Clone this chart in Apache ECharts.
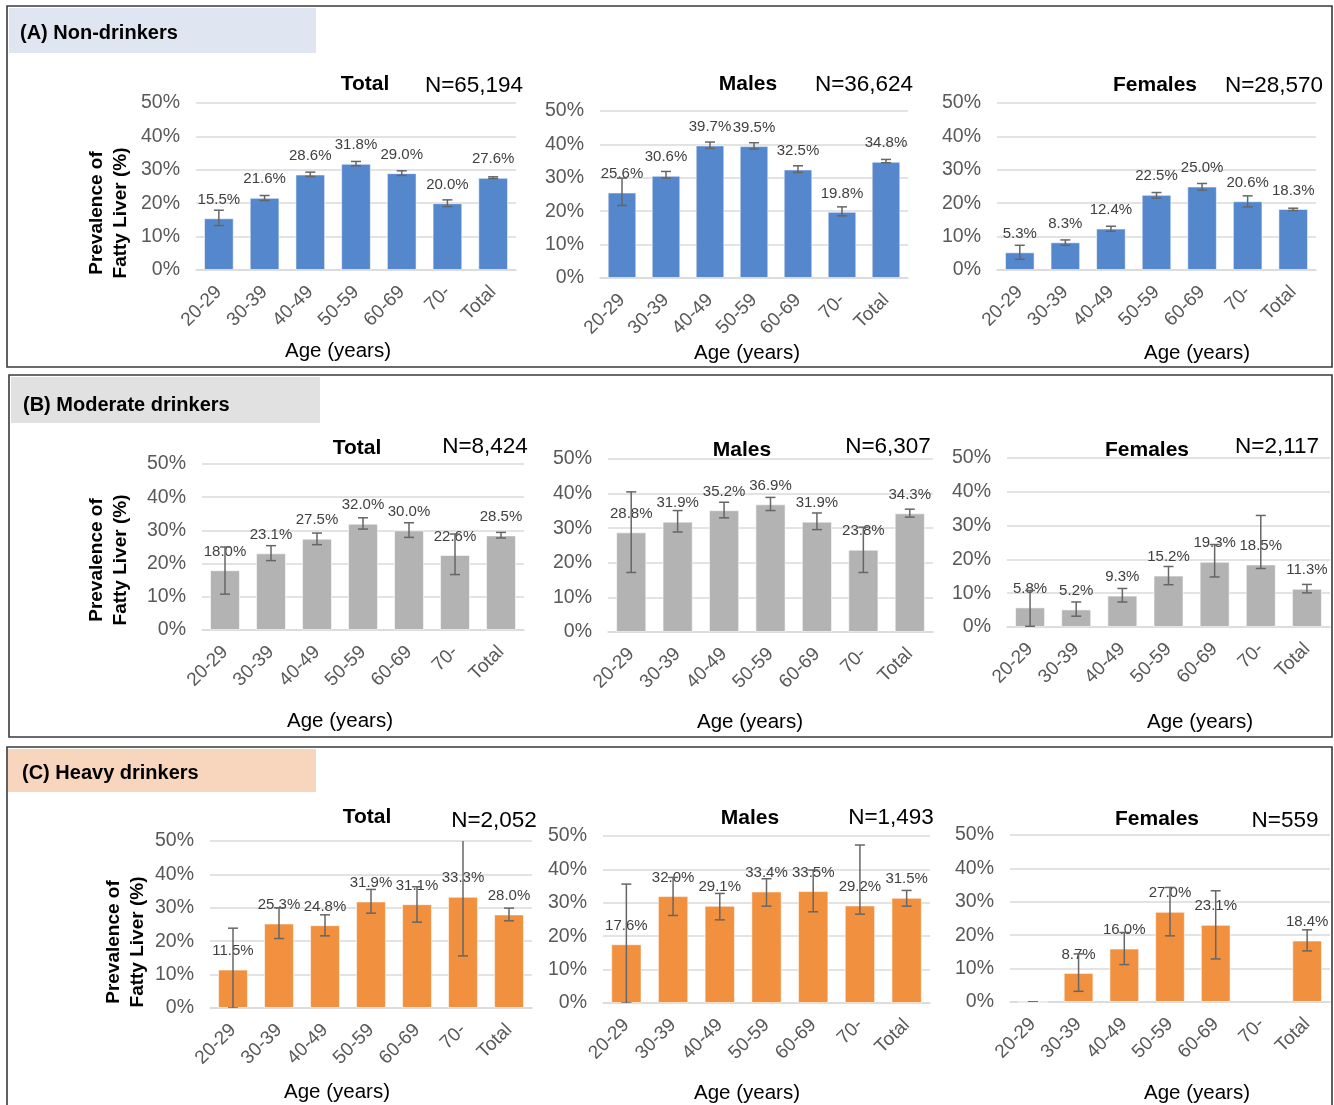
<!DOCTYPE html>
<html>
<head>
<meta charset="utf-8">
<script src="https://cdn.jsdelivr.net/npm/echarts@6/dist/echarts.min.js"></script>
<style>
  html, body { margin: 0; padding: 0; background: #ffffff; }
  #chart { width: 1334px; height: 1105px; }
</style>
</head>
<body>
<div id="chart"></div>
<script>
// Age groups on every x axis
const ageGroups = ['20-29', '30-39', '40-49', '50-59', '60-69', '70-', 'Total'];

// Prevalence of fatty liver (%), with lower / upper error bar limits

// (A) Non-drinkers
const nonTotal      = [15.5, 21.6, 28.6, 31.8, 29.0, 20.0, 27.6];
const nonTotalLow   = [13.3, 20.8, 28.0, 31.2, 28.3, 19.0, 27.4];
const nonTotalHigh  = [17.9, 22.3, 29.3, 32.5, 29.7, 21.0, 27.9];
const nonMales      = [25.6, 30.6, 39.7, 39.5, 32.5, 19.8, 34.8];
const nonMalesLow   = [21.7, 29.9, 38.8, 38.6, 31.6, 18.6, 34.5];
const nonMalesHigh  = [29.9, 31.9, 40.7, 40.5, 33.6, 21.3, 35.5];
const nonFemales     = [5.3, 8.3, 12.4, 22.5, 25.0, 20.6, 18.3];
const nonFemalesLow  = [3.2, 7.4, 11.6, 21.5, 23.9, 18.9, 17.8];
const nonFemalesHigh = [7.4, 9.0, 13.1, 23.2, 25.9, 22.2, 18.5];

// (B) Moderate drinkers
const modTotal      = [18.0, 23.1, 27.5, 32.0, 30.0, 22.6, 28.5];
const modTotalLow   = [10.8, 20.9, 25.7, 30.4, 27.9, 16.7, 27.7];
const modTotalHigh  = [25.0, 25.4, 29.2, 33.8, 32.3, 28.9, 29.4];
const modMales      = [28.8, 31.9, 35.2, 36.9, 31.9, 23.8, 34.3];
const modMalesLow   = [17.2, 28.9, 33.0, 35.1, 29.6, 17.2, 33.2];
const modMalesHigh  = [40.5, 35.1, 37.5, 38.9, 34.4, 30.3, 35.5];
const modFemales     = [5.8, 5.2, 9.3, 15.2, 19.3, 18.5, 11.3];
const modFemalesLow  = [0.2, 3.2, 7.4, 12.5, 14.8, 17.3, 10.1];
const modFemalesHigh = [10.8, 7.4, 11.4, 17.9, 24.4, 33.0, 12.6];

// (C) Heavy drinkers
const heavyTotal      = [11.5, 25.3, 24.8, 31.9, 31.1, 33.3, 28.0];
const heavyTotalLow   = [0.0, 20.8, 21.6, 28.4, 25.7, 15.6, 26.1];
const heavyTotalHigh  = [23.9, 30.0, 27.9, 35.5, 36.3, 51.0, 29.9];
const heavyMales      = [17.6, 32.0, 29.1, 33.4, 33.5, 29.2, 31.5];
const heavyMalesLow   = [0.0, 26.2, 24.9, 29.0, 27.3, 26.6, 29.0];
const heavyMalesHigh  = [35.6, 37.6, 32.8, 37.2, 39.8, 47.3, 33.7];
const heavyFemales     = [0.0, 8.7, 16.0, 27.0, 23.1, null, 18.4];
const heavyFemalesLow  = [0.0, 3.2, 11.2, 19.8, 12.9, null, 15.3];
const heavyFemalesHigh = [0.0, 14.4, 20.8, 34.3, 33.3, null, 21.6];

// Styles
const FONT = "'Liberation Sans', Arial, Helvetica, sans-serif";
const BLUE = '#5587cc';
const GREY = '#b3b3b3';
const ORANGE = '#f19140';
const ERR_COLOR = '#666666';
const GRID_COLOR = '#dadada';

// Layout of each small chart (pixel boxes and text anchors)
const panels = [
  { title: 'Total',   n: 'N=65,194', values: nonTotal,   low: nonTotalLow,   high: nonTotalHigh,   color: BLUE,
    grid: { left: 196, top: 103, width: 320, height: 167 }, tx: 365, ty: 84, nx: 474, ny: 86, ax: 338, ay: 351 },
  { title: 'Males',   n: 'N=36,624', values: nonMales,   low: nonMalesLow,   high: nonMalesHigh,   color: BLUE,
    grid: { left: 600, top: 111, width: 308, height: 167 }, tx: 748, ty: 84, nx: 864, ny: 85, ax: 747, ay: 353 },
  { title: 'Females', n: 'N=28,570', values: nonFemales, low: nonFemalesLow, high: nonFemalesHigh, color: BLUE,
    grid: { left: 997, top: 103, width: 319, height: 167 }, tx: 1155, ty: 85, nx: 1274, ny: 86, ax: 1197, ay: 353 },

  { title: 'Total',   n: 'N=8,424',  values: modTotal,   low: modTotalLow,   high: modTotalHigh,   color: GREY,
    grid: { left: 202, top: 464, width: 322, height: 166 }, tx: 357, ty: 448, nx: 485, ny: 447, ax: 340, ay: 721 },
  { title: 'Males',   n: 'N=6,307',  values: modMales,   low: modMalesLow,   high: modMalesHigh,   color: GREY,
    grid: { left: 608, top: 459, width: 325, height: 173 }, tx: 742, ty: 450, nx: 888, ny: 447, ax: 750, ay: 722 },
  { title: 'Females', n: 'N=2,117',  values: modFemales, low: modFemalesLow, high: modFemalesHigh, color: GREY,
    grid: { left: 1007, top: 458, width: 323, height: 169 }, tx: 1147, ty: 450, nx: 1277, ny: 447, ax: 1200, ay: 722 },

  { title: 'Total',   n: 'N=2,052',  values: heavyTotal,   low: heavyTotalLow,   high: heavyTotalHigh,   color: ORANGE,
    grid: { left: 210, top: 841, width: 322, height: 167 }, tx: 367, ty: 817, nx: 494, ny: 821, ax: 337, ay: 1092 },
  { title: 'Males',   n: 'N=1,493',  values: heavyMales,   low: heavyMalesLow,   high: heavyMalesHigh,   color: ORANGE,
    grid: { left: 603, top: 836, width: 327, height: 167 }, tx: 750, ty: 818, nx: 891, ny: 818, ax: 747, ay: 1093 },
  { title: 'Females', n: 'N=559',    values: heavyFemales, low: heavyFemalesLow, high: heavyFemalesHigh, color: ORANGE,
    grid: { left: 1010, top: 835, width: 320, height: 167 }, tx: 1157, ty: 819, nx: 1285, ny: 821, ax: 1197, ay: 1093 }
];

// Outer frames and coloured headers of the three drinking groups
const groups = [
  { label: '(A) Non-drinkers',      frame: [7, 6, 1325, 361],  head: [9, 8, 307, 45],    fill: '#dfe6f2', lx: 20, ly: 32,  yx: 109, yy: 213 },
  { label: '(B) Moderate drinkers', frame: [9, 375, 1323, 362], head: [11, 377, 309, 46], fill: '#e1e1e1', lx: 23, ly: 404, yx: 109, yy: 560 },
  { label: '(C) Heavy drinkers',    frame: [7, 747, 1325, 370], head: [8, 749, 308, 43],  fill: '#f8d6bd', lx: 22, ly: 772, yx: 126, yy: 942 }
];

const chart = echarts.init(document.getElementById('chart'), null, { renderer: 'canvas' });

const grids = [], xAxes = [], yAxes = [], series = [], graphics = [];

groups.forEach(g => {
  graphics.push({
    type: 'rect', shape: { x: g.frame[0], y: g.frame[1], width: g.frame[2], height: g.frame[3] },
    style: { fill: 'none', stroke: '#3a3a3a', lineWidth: 1.6 }, z: 1
  });
  graphics.push({
    type: 'rect', shape: { x: g.head[0], y: g.head[1], width: g.head[2], height: g.head[3] },
    style: { fill: g.fill }, z: 0
  });
  graphics.push({
    type: 'text', x: g.lx, y: g.ly + 1, z: 2,
    style: { text: g.label, font: 'bold 20px ' + FONT, fill: '#000', textAlign: 'left', textVerticalAlign: 'middle' }
  });
  graphics.push({
    type: 'text', x: g.yx, y: g.yy, rotation: Math.PI / 2, z: 2,
    style: { text: 'Prevalence of\nFatty Liver (%)', font: 'bold 19px ' + FONT, fill: '#000',
             textAlign: 'center', textVerticalAlign: 'middle', lineHeight: 24 }
  });
});

panels.forEach((p, k) => {
  grids.push(Object.assign({ containLabel: false }, p.grid));

  xAxes.push({
    type: 'category', gridIndex: k, data: ageGroups,
    axisTick: { show: false },
    axisLine: { show: true, lineStyle: { color: GRID_COLOR, width: 1.5 } },
    axisLabel: { interval: 0, rotate: 45, margin: 19, fontSize: 19, color: '#595959', fontFamily: FONT }
  });

  yAxes.push({
    type: 'value', gridIndex: k, min: 0, max: 50, interval: 10,
    axisLine: { show: false }, axisTick: { show: false },
    splitLine: { lineStyle: { color: GRID_COLOR, width: 1.5 } },
    axisLabel: { formatter: '{value}%', margin: 16, fontSize: 19.5, color: '#595959', fontFamily: FONT }
  });

  series.push({
    type: 'bar', xAxisIndex: k, yAxisIndex: k, z: 2,
    data: p.values,
    barWidth: '65%',
    itemStyle: { color: p.color, borderColor: 'rgba(255,255,255,0.55)', borderWidth: 1 },
    label: {
      show: true, position: 'top', distance: 11,
      fontSize: 15, color: '#404040', fontFamily: FONT,
      formatter: d => (d.value ? d.value.toFixed(1) + '%' : '')
    },
    emphasis: { disabled: true }
  });

  const errData = p.values.map((v, i) => (v == null ? null : [i, p.low[i], p.high[i]]));
  series.push({
    type: 'custom', xAxisIndex: k, yAxisIndex: k, z: 5, clip: true,
    data: errData,
    encode: { x: 0, y: [1, 2] },
    renderItem: (params, api) => {
      const i = api.value(0);
      const lo = api.coord([i, api.value(1)]);
      const hi = api.coord([i, api.value(2)]);
      const w = 5;
      const st = { stroke: ERR_COLOR, lineWidth: 1.5 };
      return {
        type: 'group',
        children: [
          { type: 'line', shape: { x1: lo[0], y1: lo[1], x2: hi[0], y2: hi[1] }, style: st },
          { type: 'line', shape: { x1: lo[0] - w, y1: lo[1], x2: lo[0] + w, y2: lo[1] }, style: st },
          { type: 'line', shape: { x1: hi[0] - w, y1: hi[1], x2: hi[0] + w, y2: hi[1] }, style: st }
        ]
      };
    }
  });

  graphics.push({
    type: 'text', x: p.tx, y: p.ty, z: 2,
    style: { text: p.title, font: 'bold 21px ' + FONT, fill: '#000', textAlign: 'center', textVerticalAlign: 'middle' }
  });
  graphics.push({
    type: 'text', x: p.nx, y: p.ny, z: 2,
    style: { text: p.n, font: '22.5px ' + FONT, fill: '#000', textAlign: 'center', textVerticalAlign: 'middle' }
  });
  graphics.push({
    type: 'text', x: p.ax, y: p.ay, z: 2,
    style: { text: 'Age (years)', font: '20.5px ' + FONT, fill: '#000', textAlign: 'center', textVerticalAlign: 'middle' }
  });
});

chart.setOption({
  animation: false,
  backgroundColor: '#ffffff',
  textStyle: { fontFamily: FONT },
  grid: grids,
  xAxis: xAxes,
  yAxis: yAxes,
  series: series,
  graphic: graphics
});
</script>
</body>
</html>
